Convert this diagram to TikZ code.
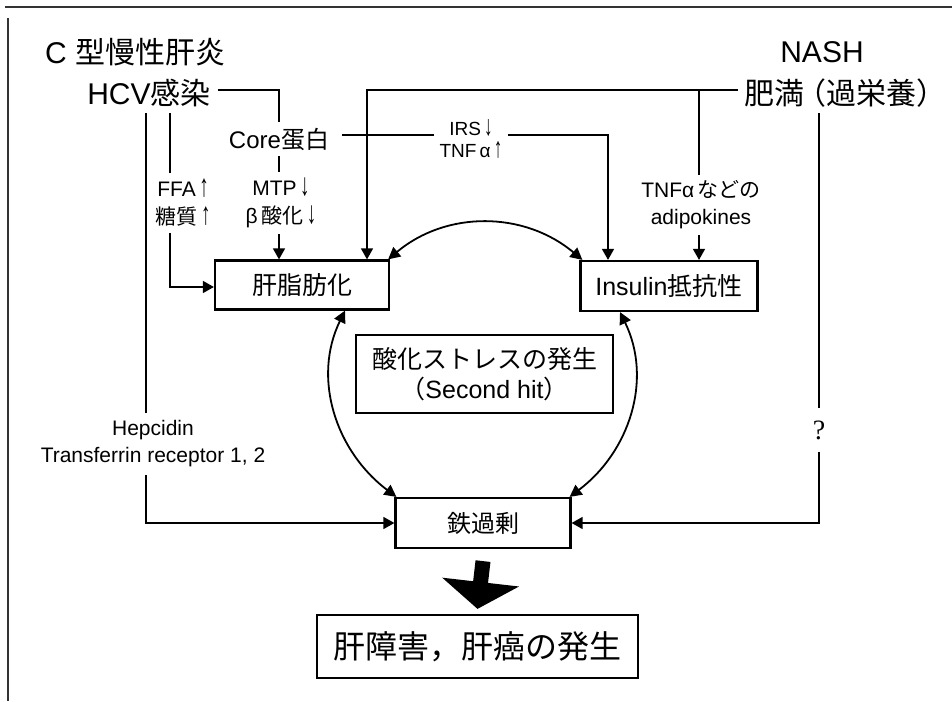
\documentclass[tikz,border=0pt]{standalone}
\usepackage{fontspec}
\usepackage{graphicx}
\setmainfont{Liberation Sans}
\newfontfamily\jp{Noto Sans CJK JP}
\newfontfamily\serifq{Liberation Serif}
\newcommand\J[1]{{\jp #1}}
\newcommand\fs[2]{\fontsize{#1}{#2}\selectfont}
\newcommand\upar{\,\scalebox{0.9}[1.5]{↑}}
\newcommand\dnar{\,\scalebox{0.9}[1.5]{↓}}
\usetikzlibrary{arrows.meta,calc}
\begin{document}
\begin{tikzpicture}[x=1pt,y=1pt,
  conn/.style={line width=1.4pt},
  arr/.style={conn,-{Triangle[length=11pt,width=12pt]}},
  darr/.style={line width=1.8pt,{Triangle[length=12pt,width=12pt]}-{Triangle[length=12pt,width=12pt]}},
  box/.style={draw,line width=2.2pt,inner sep=0pt,align=center},
  lbl/.style={inner sep=0pt,align=center},
  frame/.style={line width=1.5pt,black!80},
  bigarrow/.style={line width=15pt,-{Triangle[length=27pt,width=76pt]}}
]
\useasboundingbox (0,0) rectangle (952,-701);
\draw[frame] (5,-7) -- (952,-7);
\draw[frame] (8,-18) -- (8,-701);

% text nodes
\node[lbl,font=\fs{30}{36}] (c) at (135,-52) {C \J{型慢性肝炎}};
\node[lbl,inner sep=6pt,font=\fs{30}{36}] (hcv) at (149,-93) {HCV\J{感染}};
\node[lbl,inner sep=6pt,font=\fs{24}{28}] (core) at (279,-139) {Core\J{蛋白}};
\node[lbl,inner ysep=6pt,font=\fs{21}{28}] (mtp) at (281,-203) {MTP\dnar\\β\,\J{酸化}\dnar};
\node[lbl,inner ysep=6pt,font=\fs{21}{28}] (ffa) at (183,-203) {FFA\upar\\\J{糖質}\upar};
\node[lbl,inner xsep=5pt,inner ysep=2pt,font=\fs{19}{22}] (irs) at (471,-139) {IRS\dnar\\TNF\,α\upar};
\node[lbl,inner ysep=6pt,font=\fs{21}{27}] (tnf) at (701,-205) {TNFα\,\J{などの}\\adipokines};
\node[lbl,inner ysep=8pt,font=\fs{21}{27}] (hep) at (153,-444) {Hepcidin\\Transferrin receptor 1, 2};
\node[lbl,inner ysep=12pt,font=\fs{28}{30}\serifq] (q) at (819,-430) {?};
\node[lbl,font=\fs{30}{36}] (nash) at (822,-52) {NASH};
\node[lbl,anchor=west,inner sep=6pt,font=\fs{30}{36}] (obes) at (738,-93) {\J{肥満}\kern-0.25em\J{（過栄養）}\kern-0.5em};

% boxes
\node[box,minimum width=174pt,minimum height=49pt,font=\fs{25}{30}] (fat) at (302,-285) {\J{肝脂肪化}};
\node[box,minimum width=177pt,minimum height=50pt,font=\fs{25}{30}] (ins) at (669,-286) {Insulin\J{抵抗性}};
\node[box,minimum width=257pt,minimum height=78pt,font=\fs{25}{30}] (ox) at (484.5,-374) {\J{酸化ストレスの発生}\\\J{（}Second hit\J{）}};
\node[box,minimum width=175pt,minimum height=50pt,font=\fs{24}{30}] (iron) at (483,-523) {\J{鉄過剰}};
\node[box,minimum width=321pt,minimum height=63pt,font=\fs{32}{36}] (liver) at (477.5,-646.5) {\J{肝障害，肝癌の発生}};

\coordinate (x146) at (146,0);
\coordinate (x170) at (170,0);
\coordinate (x699) at (699,0);
\coordinate (x819) at (819,0);
\coordinate (coreR) at ([shift={(7pt,4pt)}]core.east);

% HCV connectors
\draw[conn] ([shift={(1pt,3pt)}]hcv.east) -| (core.north);
\draw[conn] (core.south) -- (core.south |- mtp.north);
\draw[arr] (mtp.south -| core.south) -- (fat.north -| core.south);
\draw[conn] (hcv.south -| x170) -- (ffa.north -| x170);
\draw[arr] (ffa.south -| x170) |- ([yshift=-2pt]fat.west);
\draw[conn] (hcv.south -| x146) -- (hep.north -| x146);
\draw[arr] (hep.south -| x146) |- (iron.west);
\draw[conn] (coreR) -- (coreR -| irs.west);
\draw[arr] (coreR -| irs.east) -| ([xshift=-61pt]ins.north);

% NASH connectors
\draw[arr] ([yshift=3pt]obes.west) -| ([xshift=65pt]fat.north);
\draw[conn] ([yshift=3pt]obes.west -| x699) -- (tnf.north -| x699);
\draw[arr] (tnf.south -| x699) -- (ins.north -| x699);
\draw[conn] (obes.south -| x819) -- (q.north -| x819);
\draw[arr] (q.south -| x819) |- (iron.east);

% cycle arcs
\draw[darr] ([xshift=-2pt]fat.north east) to[out=40,in=140] ([xshift=3pt]ins.north west);
\draw[darr] ([xshift=43pt]fat.south) to[out=244,in=143] ([xshift=2pt]iron.north west);
\draw[darr] ([xshift=-49pt]ins.south) to[out=-64,in=37] ([xshift=-2pt]iron.north east);

% big arrow
\draw[bigarrow] ([yshift=-12pt]iron.south) -- ([yshift=5pt]liver.north);
\end{tikzpicture}
\end{document}
